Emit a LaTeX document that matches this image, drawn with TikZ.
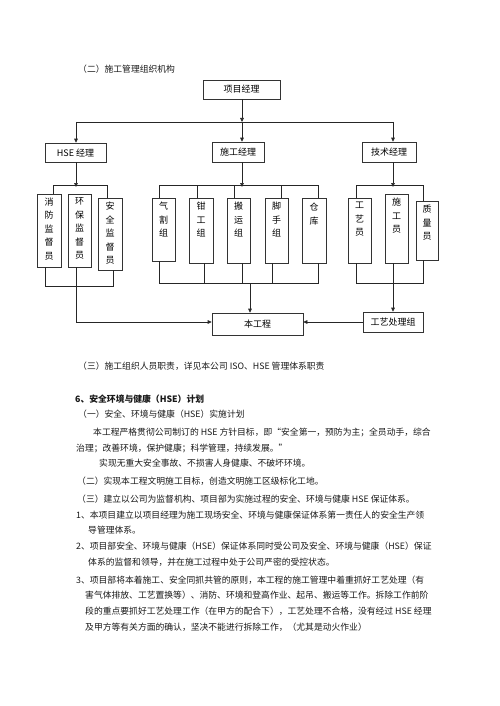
\documentclass[tikz,border=0pt]{standalone}
\usepackage{fontspec}
\newfontfamily\cjk{Noto Sans CJK SC}
\usetikzlibrary{arrows.meta}
\begin{document}
\begin{tikzpicture}[x=1pt,y=-1pt,
  bx/.style={draw=black!80,line width=0.6pt,inner sep=0pt,fill=white},
  vt/.style={font=\cjk\fontsize{9}{13.5}\selectfont,align=center,anchor=north,inner sep=0pt},
  ht/.style={font=\cjk\fontsize{9}{11}\selectfont,inner sep=0pt},
  ln/.style={line width=0.6pt,draw=black!85},
  ar/.style={ln,-{Triangle[length=4pt,width=3.6pt]}},
  tx/.style={font=\cjk\fontsize{8.8}{11}\selectfont,anchor=west,inner sep=0pt,text=black!90}]
\useasboundingbox (0,0) rectangle (500,706);
\fill[white] (0,0) rectangle (500,706);

% title
\node[tx] (t1) at (78,69) {（二）施工管理组织机构};

% top boxes
\node[bx,minimum width=77,minimum height=19] (pm) at (241.5,89.5) {};
\node[ht] (pmt) at (pm.center) {项目经理};
\node[bx,minimum width=61,minimum height=19] (hse) at (75.5,152.5) {};
\node[ht] (hset) at (hse.center) {HSE 经理};
\node[bx,minimum width=52,minimum height=20] (sg) at (238,152) {};
\node[ht] (sgt) at (sg.center) {施工经理};
\node[bx,minimum width=54,minimum height=20] (jj) at (389,152) {};
\node[ht] (jjt) at (jj.center) {技术经理};

\coordinate (b0) at (242,122);
\coordinate (bL) at (76,122);
\coordinate (bR) at (393,122);
\draw[ar] (b0 |- pm.south) -- (b0);
\draw[ln] (bL) -- (bR);
\draw[ar] (bL) -- (bL |- hse.north);
\draw[ar] (b0) -- (b0 |- sg.north);
\draw[ar] (bR) -- (bR |- jj.north);

% HSE group boxes
\node[bx,minimum width=24,minimum height=73] (xf) at (49,230.5) {};
\node[vt] (xft) at (49,197.5) {消\\防\\监\\督\\员};
\node[bx,minimum width=23,minimum height=73] (hb) at (79.5,230.5) {};
\node[vt] (hbt) at (79.5,197.5) {环\\保\\监\\督\\员};
\node[bx,minimum width=24,minimum height=72] (aq) at (110,234) {};
\node[vt] (aqt) at (110,202) {安\\全\\监\\督\\员};

% construction group boxes
\node[bx,minimum width=23,minimum height=63] (qg) at (163.5,229.5) {};
\node[vt] (qgt) at (163.5,202) {气\\割\\组};
\node[bx,minimum width=24,minimum height=65] (qx) at (201,230.5) {};
\node[vt] (qxt) at (201,202) {钳\\工\\组};
\node[bx,minimum width=23,minimum height=65] (by) at (238.5,230.5) {};
\node[vt] (byt) at (238.5,202) {搬\\运\\组};
\node[bx,minimum width=23,minimum height=65] (jsz) at (276.5,230.5) {};
\node[vt] (jszt) at (276.5,202) {脚\\手\\组};
\node[bx,minimum width=24,minimum height=65] (ck) at (314,230.5) {};
\node[vt] (ckt) at (314,203) {仓\\库};

% tech group boxes
\node[bx,minimum width=23,minimum height=65] (gy) at (359.5,230.5) {};
\node[vt] (gyt) at (359.5,202) {工\\艺\\员};
\node[bx,minimum width=23,minimum height=69] (sy) at (396.5,228.5) {};
\node[vt] (syt) at (396.5,198) {施\\工\\员};
\node[bx,minimum width=22,minimum height=59] (zl) at (427,230.5) {};
\node[vt] (zlt) at (427,205) {质\\量\\员};

% bottom boxes
\node[bx,minimum width=91,minimum height=22] (bg) at (257.5,324) {};
\node[ht] (bgt) at (bg.center) {本工程};
\node[bx,minimum width=60,minimum height=20] (gc) at (393,322) {};
\node[ht] (gct) at (gc.center) {工艺处理组};

% HSE group connectors
\coordinate (h0) at (76,187);
\draw[ar] (hse.south -| h0) -- (h0);
\draw[ln] (53,185) -- (107,185);
\draw[ln] (53,185) -- (53,0 |- xf.north);
\draw[ln] (107,185) -- (107,0 |- aq.north);
\draw[ln] (45,0 |- xf.south) -- (45,286) -- (113,286) -- (113,0 |- aq.south);
\coordinate (hc) at (76,322);
\draw[ln] (76,0 |- hb.south) -- (hc);
\draw[ar] (hc) -- (hc -| bg.west);

% construction group connectors
\coordinate (s0) at (242,187);
\draw[ar] (sg.south -| s0) -- (s0);
\draw[ln] (159,0 |- qg.north) -- (159,185) -- (318,185) -- (318,0 |- ck.north);
\draw[ln] (197,185) -- (197,0 |- qx.north);
\draw[ln] (234,185) -- (234,0 |- by.north);
\draw[ln] (281,185) -- (281,0 |- jsz.north);
\draw[ln] (159,0 |- qg.south) -- (159,283) -- (318,283) -- (318,0 |- ck.south);
\draw[ln] (204,0 |- qx.south) -- (204,283);
\draw[ln] (242,0 |- by.south) -- (242,283);
\draw[ln] (272,0 |- jsz.south) -- (272,283);
\coordinate (s1) at (250,283);
\draw[ar] (s1) -- (s1 |- bg.north);

% tech group connectors
\coordinate (j0) at (393,187);
\draw[ar] (jj.south -| j0) -- (j0);
\draw[ln] (356,0 |- gy.north) -- (356,185) -- (423,185) -- (423,0 |- zl.north);
\draw[ln] (356,0 |- gy.south) -- (356,283) -- (423,283) -- (423,0 |- zl.south);
\coordinate (j1) at (393,263);
\draw[ar] (j1) -- (j1 |- gc.north);
\draw[ar] (gc.west) -- (gc.west -| bg.east);

% text below
\node[tx] (p0) at (78,366) {（三）施工组织人员职责，详见本公司 ISO、HSE 管理体系职责};
\node[tx,font=\cjk\bfseries\fontsize{8.8}{11}\selectfont] (p1) at (75,399) {6、安全环境与健康（HSE）计划};
\node[tx] (p2) at (78,414) {（一）安全、环境与健康（HSE）实施计划};
\node[tx] (p3) at (93,432) {本工程严格贯彻公司制订的 HSE 方针目标，即“安全第一，预防为主；全员动手，综合};
\node[tx] (p4) at (76,448) {治理；改善环境，保护健康；科学管理，持续发展。”};
\node[tx] (p5) at (99,463) {实现无重大安全事故、不损害人身健康、不破坏环境。};
\node[tx] (p6) at (77,481) {（二）实现本工程文明施工目标，创造文明施工区级标化工地。};
\node[tx] (p7) at (77,499) {（三）建立以公司为监督机构、项目部为实施过程的安全、环境与健康 HSE 保证体系。};
\node[tx] (p8) at (76,515) {1、本项目建立以项目经理为施工现场安全、环境与健康保证体系第一责任人的安全生产领};
\node[tx] (p9) at (88,530) {导管理体系。};
\node[tx] (p10) at (76,546) {2、项目部安全、环境与健康（HSE）保证体系同时受公司及安全、环境与健康（HSE）保证};
\node[tx] (p11) at (88,562) {体系的监督和领导，并在施工过程中处于公司严密的受控状态。};
\node[tx] (p12) at (76,580) {3、项目部将本着施工、安全同抓共管的原则，本工程的施工管理中着重抓好工艺处理（有};
\node[tx] (p13) at (85,595) {害气体排放、工艺置换等）、消防、环境和登高作业、起吊、搬运等工作。拆除工作前阶};
\node[tx] (p14) at (85,611) {段的重点要抓好工艺处理工作（在甲方的配合下），工艺处理不合格，没有经过 HSE 经理};
\node[tx] (p15) at (85,627) {及甲方等有关方面的确认，坚决不能进行拆除工作，（尤其是动火作业）};
\end{tikzpicture}
\end{document}
